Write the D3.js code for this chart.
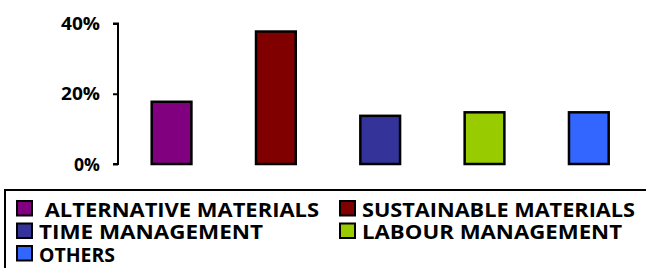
<!DOCTYPE html>
<html><head><meta charset="utf-8">
<script src="https://cdn.jsdelivr.net/npm/d3@7"></script>
<style>html,body{margin:0;padding:0;background:#fff;}svg{display:block;}</style>
</head><body>
<script>
const categories = ["ALTERNATIVE MATERIALS","SUSTAINABLE MATERIALS","TIME MANAGEMENT","LABOUR MANAGEMENT","OTHERS"];
const values = [18, 38, 14, 15, 15];
const colors = ["#800080","#800000","#333399","#99CC00","#3366FF"];
const yTicks = [0, 20, 40];
const tickLabels = ["0%","20%","40%"];
const legendLabels = [" ALTERNATIVE MATERIALS","SUSTAINABLE MATERIALS","TIME MANAGEMENT","LABOUR MANAGEMENT","OTHERS"];
const legendWidths = [280, 273, 224, 260, 76];

const W = 646, H = 268;
const svg = d3.select("body").append("svg").attr("width", W).attr("height", H);
const font = "'Open Sans', sans-serif";

const x = d3.scaleBand().domain(categories).range([119.4, 641]).paddingInner(0.6).paddingOuter(0.3);
const y = d3.scaleLinear().domain([0, 40]).range([164, 23.5]);

const yAxis = d3.axisLeft(y).tickValues(yTicks).tickFormat((d, i) => tickLabels[i]).tickSize(5).tickPadding(13);
const ga = svg.append("g").attr("transform", "translate(118,0)").call(yAxis);
ga.select(".domain").attr("stroke", "#000").attr("stroke-width", 2).attr("d", `M-5,${y(0)}H0V${y(40)}H-5`);
ga.selectAll(".tick line").attr("stroke", "#000").attr("stroke-width", 2);
ga.selectAll(".tick text").attr("font-family", font).attr("font-weight", 700).attr("font-size", 17)
  .attr("fill", "#000").attr("dy", "0.36em")
  .attr("textLength", (d) => d === 0 ? 26 : 39).attr("lengthAdjust", "spacingAndGlyphs");

svg.append("g").selectAll("rect").data(categories).join("rect")
  .attr("x", d => x(d) + 1)
  .attr("y", (d, i) => y(values[i]) + 1)
  .attr("width", x.bandwidth() - 2)
  .attr("height", (d, i) => y(0) - y(values[i]) - 1)
  .attr("fill", (d, i) => colors[i])
  .attr("stroke", "#000").attr("stroke-width", 2.5);

// legend
svg.append("rect").attr("x", 5).attr("y", 190).attr("width", 700).attr("height", 120)
  .attr("fill", "none").attr("stroke", "#000").attr("stroke-width", 2);
const pos = [[16, 200], [339, 200], [16, 222.5], [339, 222.5], [16, 245]];
const lg = svg.append("g").selectAll("g").data(legendLabels).join("g")
  .attr("transform", (d, i) => `translate(${pos[i][0]},${pos[i][1]})`);
lg.append("rect").attr("x", 1).attr("y", 1).attr("width", 15).attr("height", 14.5)
  .attr("fill", (d, i) => colors[i]).attr("stroke", "#000").attr("stroke-width", 2);
lg.append("text").attr("x", (d, i) => i === 0 ? 23 : 23).attr("y", 16.5)
  .attr("font-family", font).attr("font-weight", 700).attr("font-size", 20)
  .attr("fill", "#000").attr("xml:space", "preserve").style("white-space", "pre")
  .attr("textLength", (d, i) => legendWidths[i]).attr("lengthAdjust", "spacingAndGlyphs")
  .text(d => d);
</script>
</body></html>
